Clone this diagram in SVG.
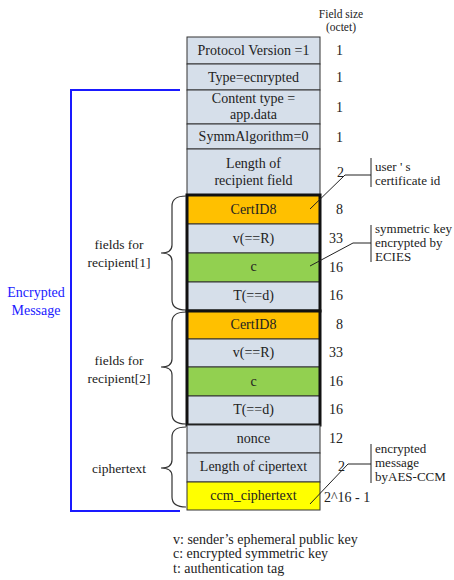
<svg xmlns="http://www.w3.org/2000/svg" width="454" height="580" viewBox="0 0 454 580">
  <style>
    text { font-family: "Liberation Serif", "Times New Roman", serif; fill: #222; }
    .lbl { font-size: 14px; text-anchor: middle; }
    .num { font-size: 14px; text-anchor: end; }
    .hdr { font-size: 11.5px; text-anchor: middle; }
    .note { font-size: 13px; }
    .legend { font-size: 14px; }
    .side { font-size: 13.5px; text-anchor: middle; }
    .blue { font-size: 14px; text-anchor: middle; fill: #1a1aff; }
    .cell { stroke: #333; stroke-width: 1; }
    .plain { fill: #d6dfea; }
    .orange { fill: #ffc000; }
    .green { fill: #92d050; }
    .yellow { fill: #ffff00; }
    .group { fill: none; stroke: #111; stroke-width: 3; }
    .brace { fill: none; stroke: #333; stroke-width: 1.2; }
    .lead { fill: none; stroke: #222; stroke-width: 1; }
    .bracket { fill: none; stroke: #1a1aff; stroke-width: 2; }
  </style>

  <!-- column header -->
  <g id="header">
    <text class="hdr" x="341" y="18">Field size</text>
    <text class="hdr" x="341" y="31">(octet)</text>
  </g>

  <!-- message fields -->
  <g id="protocol-version">
    <rect class="cell plain" x="187" y="37" width="133" height="27"/>
    <text class="lbl" x="253.5" y="55">Protocol Version =1</text>
    <text class="num" x="343" y="55">1</text>
  </g>
  <g id="type">
    <rect class="cell plain" x="187" y="64" width="133" height="26"/>
    <text class="lbl" x="253.5" y="82">Type=ecnrypted</text>
    <text class="num" x="343" y="82">1</text>
  </g>
  <g id="content-type">
    <rect class="cell plain" x="187" y="90" width="133" height="34"/>
    <text class="lbl" x="253.5" y="103">Content type =</text>
    <text class="lbl" x="253.5" y="119">app.data</text>
    <text class="num" x="343" y="112">1</text>
  </g>
  <g id="symm-algorithm">
    <rect class="cell plain" x="187" y="124" width="133" height="25"/>
    <text class="lbl" x="253.5" y="141">SymmAlgorithm=0</text>
    <text class="num" x="343" y="142">1</text>
  </g>
  <g id="recipient-length">
    <rect class="cell plain" x="187" y="149" width="133" height="46"/>
    <text class="lbl" x="253.5" y="168">Length of</text>
    <text class="lbl" x="253.5" y="185">recipient field</text>
    <text class="num" x="344" y="177">2</text>
  </g>

  <!-- recipient 1 -->
  <g id="certid-1">
    <rect class="cell orange" x="187" y="195" width="133" height="29"/>
    <text class="lbl" x="253.5" y="214">CertID8</text>
    <text class="num" x="343" y="214">8</text>
  </g>
  <g id="v-1">
    <rect class="cell plain" x="187" y="224" width="133" height="29"/>
    <text class="lbl" x="253.5" y="243">v(==R)</text>
    <text class="num" x="343" y="243">33</text>
  </g>
  <g id="c-1">
    <rect class="cell green" x="187" y="253" width="133" height="29"/>
    <text class="lbl" x="253.5" y="271">c</text>
    <text class="num" x="343" y="272">16</text>
  </g>
  <g id="t-1">
    <rect class="cell plain" x="187" y="282" width="133" height="29"/>
    <text class="lbl" x="253.5" y="300">T(==d)</text>
    <text class="num" x="343" y="300">16</text>
  </g>
  <rect class="group" x="187" y="195" width="133" height="116"/>

  <!-- recipient 2 -->
  <g id="certid-2">
    <rect class="cell orange" x="187" y="311" width="133" height="28"/>
    <text class="lbl" x="253.5" y="329">CertID8</text>
    <text class="num" x="343" y="329">8</text>
  </g>
  <g id="v-2">
    <rect class="cell plain" x="187" y="339" width="133" height="28"/>
    <text class="lbl" x="253.5" y="357">v(==R)</text>
    <text class="num" x="343" y="357">33</text>
  </g>
  <g id="c-2">
    <rect class="cell green" x="187" y="367" width="133" height="29"/>
    <text class="lbl" x="253.5" y="386">c</text>
    <text class="num" x="343" y="386">16</text>
  </g>
  <g id="t-2">
    <rect class="cell plain" x="187" y="396" width="133" height="29"/>
    <text class="lbl" x="253.5" y="414">T(==d)</text>
    <text class="num" x="343" y="414">16</text>
  </g>
  <rect class="group" x="187" y="311" width="133" height="114"/>

  <!-- ciphertext -->
  <g id="nonce">
    <rect class="cell plain" x="187" y="425" width="133" height="28"/>
    <text class="lbl" x="253.5" y="443">nonce</text>
    <text class="num" x="343" y="443">12</text>
  </g>
  <g id="cipher-length">
    <rect class="cell plain" x="187" y="453" width="133" height="29"/>
    <text class="lbl" x="253.5" y="471">Length of cipertext</text>
    <text class="num" x="345" y="471">2</text>
  </g>
  <g id="ccm-ciphertext">
    <rect class="cell yellow" x="187" y="482" width="133" height="28"/>
    <text class="lbl" x="253.5" y="500">ccm_ciphertext</text>
    <text x="324" y="502" style="font-size:14px">2^16 - 1</text>
  </g>

  <!-- braces and side labels -->
  <g id="recipient-1-brace">
    <path class="brace" d="M186,196 Q172,196 172,206 L172,245 Q172,253 161,253 Q172,253 172,261 L172,300 Q172,310 186,310"/>
    <text class="side" x="119" y="249">fields for</text>
    <text class="side" x="119" y="267">recipient[1]</text>
  </g>
  <g id="recipient-2-brace">
    <path class="brace" d="M186,312 Q172,312 172,322 L172,359 Q172,367 161,367 Q172,367 172,375 L172,414 Q172,424 186,424"/>
    <text class="side" x="119" y="365">fields for</text>
    <text class="side" x="119" y="383">recipient[2]</text>
  </g>
  <g id="ciphertext-brace">
    <path class="brace" d="M186,427 Q172,427 172,437 L172,460 Q172,468 161,468 Q172,468 172,476 L172,497 Q172,507 186,507"/>
    <text class="side" x="119" y="473">ciphertext</text>
  </g>

  <!-- encrypted message bracket -->
  <g id="encrypted-message">
    <path class="bracket" d="M180,90 L71,90 L71,511 L180,511"/>
    <text class="blue" x="36" y="297">Encrypted</text>
    <text class="blue" x="36" y="315">Message</text>
  </g>

  <!-- callout leaders -->
  <g id="connectors">
    <path class="lead" d="M310,209 L345,175 L371,175 M371,158 L371,187"/>
    <path class="lead" d="M310,266 L353,243 L371,243 M371,225 L371,262"/>
    <path class="lead" d="M310,504 L348,464 L371,464 M371,444 L371,483"/>
  </g>

  <g id="note-certificate">
    <text class="note" x="375" y="171">user ' s</text>
    <text class="note" x="375" y="185">certificate id</text>
  </g>
  <g id="note-ecies">
    <text class="note" x="375" y="233">symmetric key</text>
    <text class="note" x="375" y="247">encrypted by</text>
    <text class="note" x="375" y="261">ECIES</text>
  </g>
  <g id="note-aes">
    <text class="note" x="375" y="453">encrypted</text>
    <text class="note" x="375" y="467">message</text>
    <text class="note" x="375" y="481">byAES-CCM</text>
  </g>

  <!-- legend -->
  <g id="legend">
    <text class="legend" x="173" y="544">v: sender’s ephemeral public key</text>
    <text class="legend" x="173" y="558">c: encrypted symmetric key</text>
    <text class="legend" x="173" y="573">t: authentication tag</text>
  </g>
</svg>
